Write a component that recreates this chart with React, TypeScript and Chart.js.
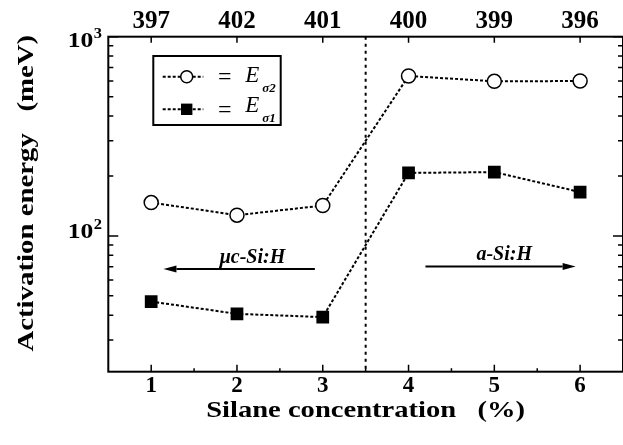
import React, { useEffect, useRef } from 'react';
import { Chart, registerables } from 'chart.js';

Chart.register(...registerables);

// ---- data ----
const CONCENTRATION = [1, 2, 3, 4, 5, 6];
const TOP_LABELS = ['397', '402', '401', '400', '399', '396'];
const E_SIGMA2 = [147, 127, 142, 635, 597, 599];
const E_SIGMA1 = [46.8, 40.6, 39.1, 207, 209, 166];
const Y_MAJOR = [100, 1000];
const Y_MAJOR_EXP = ['2', '3'];
const PHASE_BOUNDARY = 3.5;
const REGION_TEXT = ['μc-Si:H', 'a-Si:H'];
const REGION_TEXT_X = [2.18, 5.115];
const REGION_TEXT_Y = [73.2, 75.8];
const ARROW_FROM = [2.908, 4.197];
const ARROW_TO = [1.143, 5.948];
const ARROW_Y = [68.1, 70.2];
const X_TITLE = 'Silane concentration   (%)';
const Y_TITLE = 'Activation energy   (meV)';

const SERIF = '"Liberation Serif", "Times New Roman", serif';

function drawArrow(ctx: CanvasRenderingContext2D, x0: number, x1: number, y: number) {
  const dir = x1 > x0 ? 1 : -1;
  const headLen = 13;
  const headHalf = 3.5;
  ctx.beginPath();
  ctx.moveTo(x0, y);
  ctx.lineTo(x1 - dir * headLen, y);
  ctx.stroke();
  ctx.beginPath();
  ctx.moveTo(x1, y);
  ctx.lineTo(x1 - dir * headLen, y - headHalf);
  ctx.lineTo(x1 - dir * headLen, y + headHalf);
  ctx.closePath();
  ctx.fill();
}

function stretchedText(ctx: CanvasRenderingContext2D, text: string, x: number, y: number, sx: number) {
  ctx.save();
  ctx.translate(x, y);
  ctx.scale(sx, 1);
  ctx.fillText(text, 0, 0);
  ctx.restore();
}

const decor = {
  id: 'decor',
  beforeDatasetsDraw(chart: any) {
    const { ctx, chartArea: a, scales } = chart;
    const px = scales.x.getPixelForValue(PHASE_BOUNDARY);
    ctx.save();
    ctx.strokeStyle = '#000';
    ctx.lineWidth = 2;
    ctx.setLineDash([3, 4]);
    ctx.beginPath();
    ctx.moveTo(px, a.top);
    ctx.lineTo(px, a.bottom);
    ctx.stroke();
    ctx.restore();
  },
  afterDraw(chart: any) {
    const { ctx, chartArea: a, scales } = chart;
    const xs = scales.x;
    const ys = scales.y;
    ctx.save();
    ctx.strokeStyle = '#000';
    ctx.fillStyle = '#000';
    ctx.setLineDash([]);

    // frame
    ctx.lineWidth = 2;
    ctx.strokeRect(a.left, a.top, a.right - a.left, a.bottom - a.top);

    // x ticks
    ctx.lineWidth = 1.5;
    CONCENTRATION.forEach((v, i) => {
      const p = xs.getPixelForValue(v);
      ctx.beginPath();
      ctx.moveTo(p, a.bottom);
      ctx.lineTo(p, a.bottom - 7);
      ctx.moveTo(p, a.top);
      ctx.lineTo(p, a.top + 6);
      ctx.stroke();
      if (i < CONCENTRATION.length - 1) {
        const m = xs.getPixelForValue((v + CONCENTRATION[i + 1]) / 2);
        ctx.beginPath();
        ctx.moveTo(m, a.bottom);
        ctx.lineTo(m, a.bottom - 3.5);
        ctx.stroke();
      }
    });

    // y ticks (log)
    const lo = ys.min;
    const hi = ys.max;
    for (let e = Math.floor(Math.log10(lo)); e <= Math.ceil(Math.log10(hi)); e++) {
      for (let m = 1; m <= 9; m++) {
        const v = m * Math.pow(10, e);
        if (v < lo || v > hi) continue;
        const p = ys.getPixelForValue(v);
        const len = m === 1 ? 10 : 5;
        ctx.beginPath();
        ctx.moveTo(a.left, p);
        ctx.lineTo(a.left + len, p);
        ctx.moveTo(a.right, p);
        ctx.lineTo(a.right - len, p);
        ctx.stroke();
      }
    }

    // y major labels with superscripts
    Y_MAJOR.forEach((v, i) => {
      const p = ys.getPixelForValue(v);
      const base = Math.max(p + 2.5, a.top + 10);
      ctx.font = `bold 21px ${SERIF}`;
      ctx.textAlign = 'right';
      ctx.textBaseline = 'alphabetic';
      stretchedText(ctx, '10', a.left - 15, base, 1.22);
      ctx.font = `bold 15px ${SERIF}`;
      ctx.textAlign = 'left';
      stretchedText(ctx, Y_MAJOR_EXP[i], a.left - 14.5, base - 9, 1.1);
    });

    // x title
    ctx.font = `bold 24px ${SERIF}`;
    ctx.textAlign = 'center';
    ctx.textBaseline = 'alphabetic';
    stretchedText(ctx, X_TITLE, (a.left + a.right) / 2, a.bottom + 45.5, 1.19);

    // y title
    ctx.save();
    ctx.translate(27, (a.top + a.bottom) / 2 - 11);
    ctx.rotate(-Math.PI / 2);
    ctx.font = `bold 24px ${SERIF}`;
    ctx.textAlign = 'center';
    ctx.textBaseline = 'middle';
    stretchedText(ctx, Y_TITLE, 0, 0, 1.2);
    ctx.restore();

    // region labels + arrows
    ctx.font = `italic bold 20px ${SERIF}`;
    ctx.textAlign = 'center';
    ctx.textBaseline = 'alphabetic';
    REGION_TEXT.forEach((t, i) => {
      ctx.fillText(t, xs.getPixelForValue(REGION_TEXT_X[i]), ys.getPixelForValue(REGION_TEXT_Y[i]));
      ctx.lineWidth = 2;
      drawArrow(ctx, xs.getPixelForValue(ARROW_FROM[i]), xs.getPixelForValue(ARROW_TO[i]), ys.getPixelForValue(ARROW_Y[i]));
    });

    // legend
    const bx = a.left + 45;
    const by = a.top + 19.3;
    ctx.lineWidth = 2;
    ctx.strokeRect(bx, by, 127.4, 69);
    const rows = [
      { dy: 20.7, tb: 25.7, sub: 'σ2', style: 'circle' },
      { dy: 53.3, tb: 55.7, sub: 'σ1', style: 'rect' },
    ];
    rows.forEach((r) => {
      const yy = by + r.dy;
      ctx.lineWidth = 2;
      ctx.setLineDash([3, 2]);
      ctx.beginPath();
      ctx.moveTo(bx + 9.4, yy);
      ctx.lineTo(bx + 50, yy);
      ctx.stroke();
      ctx.setLineDash([]);
      const mx = bx + 33.4;
      if (r.style === 'circle') {
        ctx.lineWidth = 1.5;
        ctx.beginPath();
        ctx.arc(mx, yy, 6, 0, Math.PI * 2);
        ctx.fillStyle = '#fff';
        ctx.fill();
        ctx.stroke();
        ctx.fillStyle = '#000';
      } else {
        ctx.fillRect(mx - 5.7, yy - 5.7, 11.4, 11.4);
      }
      ctx.font = `24px ${SERIF}`;
      ctx.textAlign = 'center';
      ctx.textBaseline = 'middle';
      ctx.fillText('=', bx + 71.4, yy + 1);
      ctx.textAlign = 'left';
      ctx.textBaseline = 'alphabetic';
      ctx.font = `italic 23px ${SERIF}`;
      ctx.fillText('E', bx + 92, by + r.tb);
      ctx.font = `italic bold 13px ${SERIF}`;
      ctx.fillText(r.sub, bx + 109, by + r.tb + 10);
    });

    ctx.restore();
  },
};

export default function App() {
  const ref = useRef<HTMLCanvasElement | null>(null);
  useEffect(() => {
    if (!ref.current) return;
    const pts = (vals: number[]) => CONCENTRATION.map((x, i) => ({ x, y: vals[i] }));
    const chart = new Chart(ref.current, {
      type: 'line',
      data: {
        datasets: [
          {
            label: 'Eσ2',
            data: pts(E_SIGMA2),
            borderColor: '#000',
            borderWidth: 2,
            borderDash: [3, 2],
            pointStyle: 'circle',
            pointRadius: 7,
            pointBorderWidth: 1.5,
            pointBackgroundColor: '#fff',
            pointBorderColor: '#000',
            fill: false,
            tension: 0,
          },
          {
            label: 'Eσ1',
            data: pts(E_SIGMA1),
            borderColor: '#000',
            borderWidth: 2,
            borderDash: [3, 2],
            pointStyle: 'rect',
            pointRadius: 9,
            pointBorderWidth: 0,
            pointBackgroundColor: '#000',
            pointBorderColor: '#000',
            fill: false,
            tension: 0,
          },
        ],
      },
      options: {
        animation: false,
        responsive: true,
        maintainAspectRatio: false,
        layout: { padding: { left: 0, right: 7.7, top: 0, bottom: 0 } },
        plugins: { legend: { display: false }, tooltip: { enabled: false } },
        scales: {
          x: {
            type: 'linear',
            position: 'bottom',
            min: 0.5,
            max: 6.5,
            afterBuildTicks: (s: any) => {
              s.ticks = CONCENTRATION.map((v) => ({ value: v }));
            },
            afterFit: (s: any) => {
              s.height = 73.3;
            },
            grid: { display: false, drawTicks: false },
            border: { display: false },
            ticks: {
              color: '#000',
              font: { family: SERIF, size: 23, weight: 'bold' },
              padding: 1,
              maxRotation: 0,
              autoSkip: false,
              callback: (v: any) => String(v),
            },
          },
          x2: {
            type: 'linear',
            position: 'top',
            min: 0.5,
            max: 6.5,
            afterBuildTicks: (s: any) => {
              s.ticks = CONCENTRATION.map((v) => ({ value: v }));
            },
            afterFit: (s: any) => {
              s.height = 36.7;
            },
            grid: { display: false, drawTicks: false },
            border: { display: false },
            ticks: {
              color: '#000',
              font: { family: SERIF, size: 25, weight: 'bold' },
              padding: 0,
              maxRotation: 0,
              autoSkip: false,
              callback: (_v: any, i: number) => TOP_LABELS[i],
            },
          },
          y: {
            type: 'logarithmic',
            position: 'left',
            min: 20.8,
            max: 1000,
            afterFit: (s: any) => {
              s.width = 108.3;
            },
            grid: { display: false, drawTicks: false },
            border: { display: false },
            ticks: { display: false },
          },
        },
      },
      plugins: [decor],
    });
    return () => chart.destroy();
  }, []);

  return (
    <div style={{ position: 'fixed', left: 0, top: 0, width: 632, height: 445, background: '#fff' }}>
      <canvas ref={ref} />
    </div>
  );
}
